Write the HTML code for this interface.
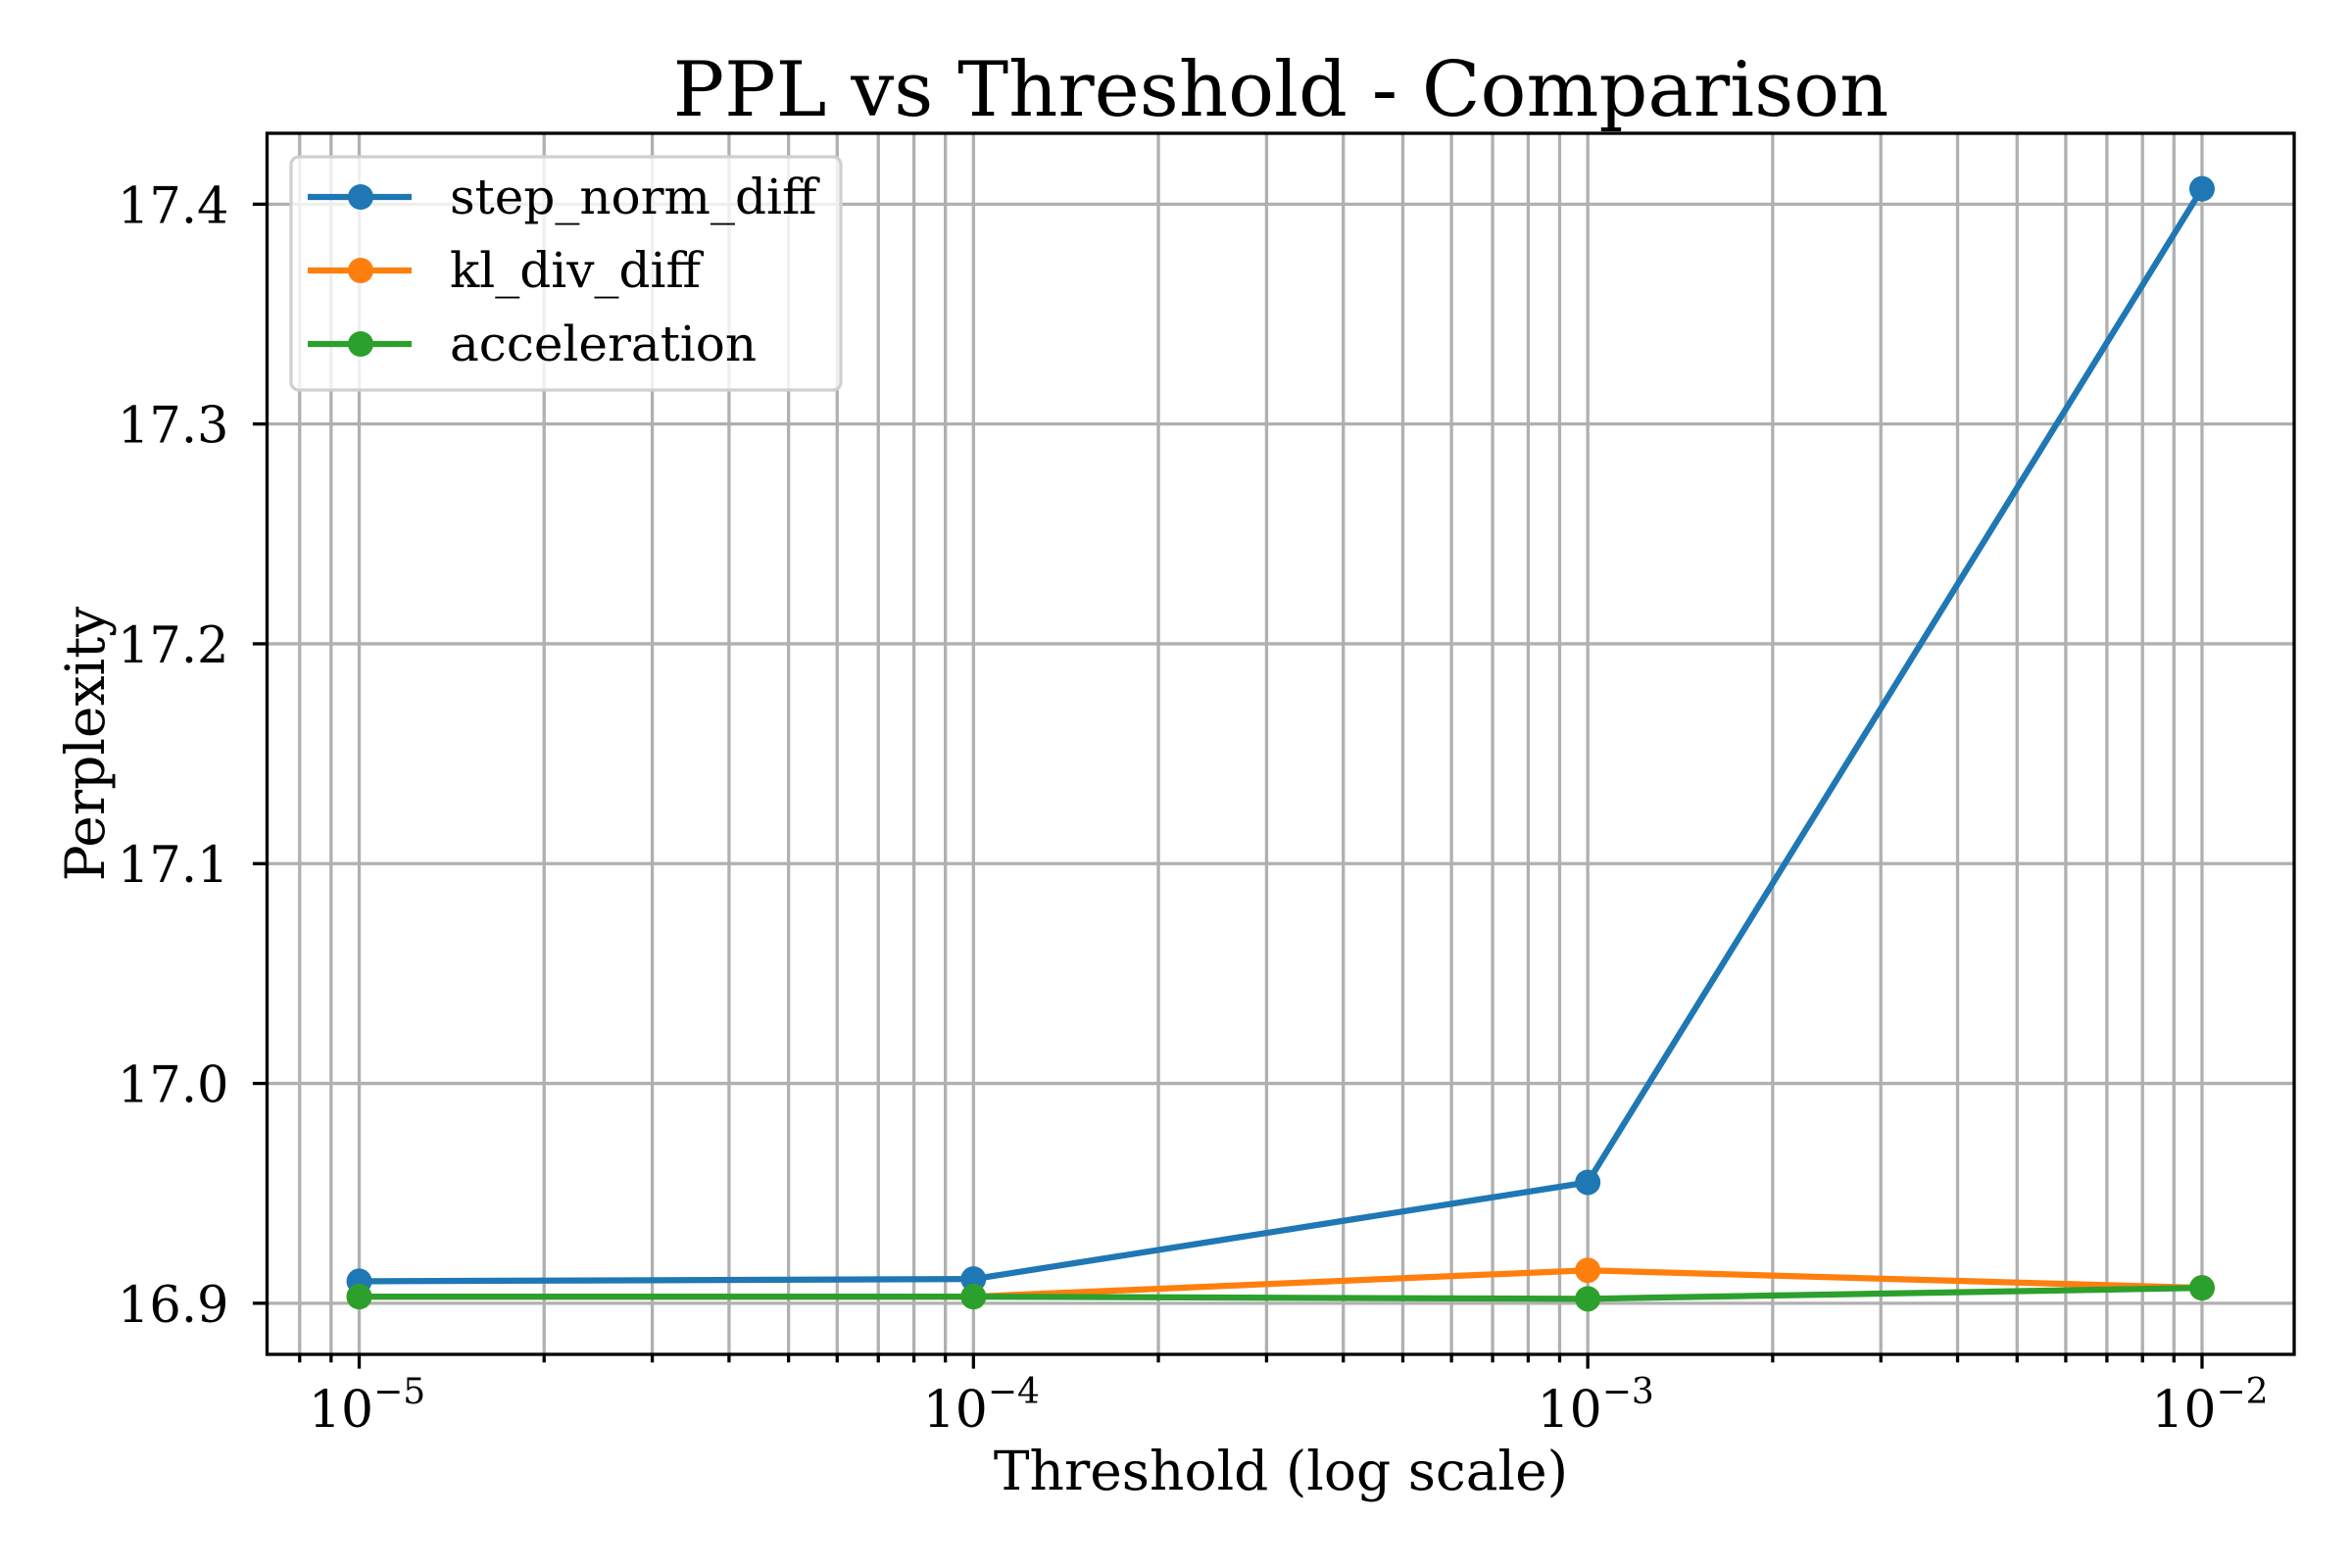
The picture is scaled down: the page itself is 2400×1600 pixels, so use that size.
<!DOCTYPE html>
<html><head><meta charset="utf-8"><style>html,body{margin:0;padding:0;background:#fff}svg{display:block}</style></head>
<body>
<svg id="chart" width="2400" height="1600" xmlns="http://www.w3.org/2000/svg" font-family="'DejaVu Serif','Liberation Serif',serif">
<rect width="2400" height="1600" fill="#fff"/>
<g id="grid"></g>
<g id="series"></g>
<g id="axes"></g>
<text x="1307" y="118" font-size="78" text-anchor="middle">PPL vs Threshold - Comparison</text>
<text x="1307" y="1520" font-size="55" text-anchor="middle">Threshold (log scale)</text>
<text x="0" y="0" font-size="55" text-anchor="middle" transform="translate(106,759) rotate(-90)">Perplexity</text>
<g id="legend"></g>
</svg>
<script>
const thresholds = [1e-5, 1e-4, 1e-3, 1e-2];
const stepNormDiff = [16.910, 16.911, 16.955, 17.407];
const klDivDiff = [16.903, 16.903, 16.915, 16.907];
const acceleration = [16.903, 16.903, 16.902, 16.907];
const seriesNames = ['step_norm_diff', 'kl_div_diff', 'acceleration'];
const yTicks = [16.9, 17.0, 17.1, 17.2, 17.3, 17.4];
const yTickLabels = ['16.9', '17.0', '17.1', '17.2', '17.3', '17.4'];
const xTickExps = [-5, -4, -3, -2];

const L=272.5,R=2341,T=136,B=1382;
const allV=[...stepNormDiff,...klDivDiff,...acceleration];
const vmin=Math.min(...allV), vmax=Math.max(...allV), pad=(vmax-vmin)*0.05;
const y0=vmin-pad, y1=vmax+pad;
const lx0=Math.log10(thresholds[0]), lx1=Math.log10(thresholds[thresholds.length-1]);
const lpad=(lx1-lx0)*0.05;
const X=v=>L+(Math.log10(v)-(lx0-lpad))/((lx1-lx0)+2*lpad)*(R-L);
const Y=v=>B-(v-y0)/(y1-y0)*(B-T);
const NS='http://www.w3.org/2000/svg';
function mk(tag,attrs,parent){const e=document.createElementNS(NS,tag);for(const k in attrs)e.setAttribute(k,attrs[k]);parent.appendChild(e);return e;}
const grid=document.getElementById('grid'),axes=document.getElementById('axes'),ser=document.getElementById('series'),leg=document.getElementById('legend');
for(let d=-6;d<=-2;d++){for(let m=1;m<10;m++){const v=m*Math.pow(10,d);const x=X(v);if(x<L||x>R)continue;
 const g=mk('line',{x1:x,x2:x,y1:T,y2:B,stroke:'#b0b0b0','stroke-width':3.3},grid);
 
 
 const t=mk('line',{x1:x,x2:x,y1:B,y2:B+(m===1?14.6:8.3),stroke:'#000','stroke-width':3.3},axes);
 
 
}}
xTickExps.forEach(e=>{const x=X(Math.pow(10,e));
 const t=mk('text',{x:x+8,y:1456,'font-size':52,'text-anchor':'middle'},axes);
 
 
 t.innerHTML='10<tspan font-size="36" dy="-24">−'+(-e)+'</tspan>';
});
yTicks.forEach((v,i)=>{const y=Y(v);
 const g=mk('line',{x1:L,x2:R,y1:y,y2:y,stroke:'#b0b0b0','stroke-width':3.3},grid);
 
 
 const t=mk('line',{x1:L-14.6,x2:L,y1:y,y2:y,stroke:'#000','stroke-width':3.3},axes);
 
 
 const l=mk('text',{x:L-39,y:y+19,'font-size':51,'text-anchor':'end'},axes);
 
 
 l.textContent=yTickLabels[i];
});
const fr=mk('rect',{x:L,y:T,width:R-L,height:B-T,fill:'none',stroke:'#000','stroke-width':3.3},axes);


const colors=['#1f77b4','#ff7f0e','#2ca02c'];
[stepNormDiff,klDivDiff,acceleration].forEach((vals,si)=>{
 const pts=vals.map((v,i)=>X(thresholds[i])+','+Y(v)).join(' ');
 const pl=mk('polyline',{points:pts,fill:'none',stroke:colors[si],'stroke-width':6.25,'stroke-linejoin':'round'},ser);
 
 
 vals.forEach((v,i)=>{const c=mk('circle',{cx:X(thresholds[i]),cy:Y(v),r:13,fill:colors[si]},ser);
  
  });
});
const lb=mk('rect',{x:297,y:160,width:561,height:238,rx:8,fill:'#fff','fill-opacity':0.8,stroke:'#d0d0d0','stroke-width':3.3},leg);


const rowsY=[201,276,351];
seriesNames.forEach((n,i)=>{const y=rowsY[i];
 const g=mk('g',{},leg);
 
 
 mk('line',{x1:314,x2:420,y1:y,y2:y,stroke:colors[i],'stroke-width':6.25},g);
 mk('circle',{cx:368,cy:y,r:13,fill:colors[i]},g);
 const t=mk('text',{x:459,y:y+17,'font-size':50},g);
 t.textContent=n;
});
</script>
</body></html>
